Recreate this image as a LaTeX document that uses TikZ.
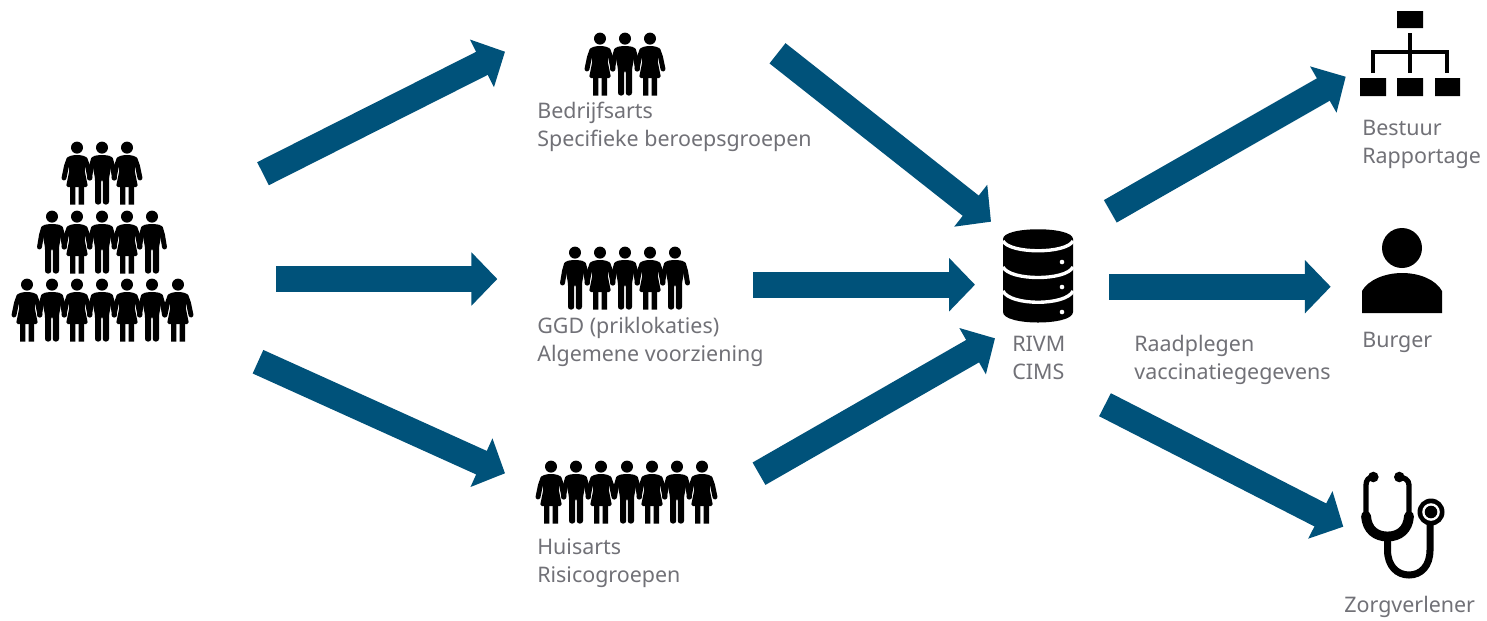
\documentclass[tikz,border=0pt]{standalone}
\usepackage{fontspec}
\setmainfont{Noto Sans}
\usetikzlibrary{arrows.meta}
\definecolor{flow}{HTML}{00527A}
\definecolor{lbl}{HTML}{717177}
\tikzset{
  x=0.02cm,y=-0.02cm,
  bigarrow/.style={draw=flow,line width=14.7pt,-{Triangle[length=14.7pt,width=29.5pt,fill=flow]}},
  lab/.style={text=lbl,inner sep=0,anchor=base west,align=left,font=\fontsize{12.2}{15.9}\selectfont},
  manfig/.pic={
    \fill (0,5.6) circle (6);
    \fill[rounded corners=1.5] (-6,13.2)--(6,13.2)--(10,15)--(8.6,28)--(7,36)--(7,62.5)--(0.8,62.5)--(0.8,37)--(-0.8,37)--(-0.8,62.5)--(-7,62.5)--(-7,36)--(-8.6,28)--(-10,15)--cycle;
    \draw[line width=2.8pt,line cap=round,line join=round] (-8.5,17)--(-10.5,24)--(-12.5,36);
    \draw[line width=2.8pt,line cap=round,line join=round] (8.5,17)--(10.5,24)--(12.5,36);
  },
  womanfig/.pic={
    \fill (0,5.6) circle (6);
    \fill[rounded corners=1] (-5,13.2)--(5,13.2)--(9,15)--(7.6,28)--(11,45)--(-11,45)--(-7.6,28)--(-9,15)--cycle;
    \fill (-7,44)rectangle(-1.6,62.5) (1.6,44)rectangle(7,62.5);
    \draw[line width=2.8pt,line cap=round,line join=round] (-8,17)--(-10.5,24)--(-13,36);
    \draw[line width=2.8pt,line cap=round,line join=round] (8,17)--(10.5,24)--(13,36);
  }
}
\begin{document}
\begin{tikzpicture}
\useasboundingbox (0,0) rectangle (1487,620);
\fill[white] (0,0) rectangle (1487,620);

% crowd
\pic at (77,142) {womanfig}; \pic at (102,142) {manfig}; \pic at (127,142) {womanfig};
\pic at (52,211) {manfig}; \pic at (77,211) {womanfig}; \pic at (102,211) {manfig}; \pic at (127,211) {womanfig}; \pic at (152,211) {manfig};
\pic at (27,279) {womanfig}; \pic at (52,279) {manfig}; \pic at (77,279) {womanfig}; \pic at (102,279) {manfig}; \pic at (127,279) {womanfig}; \pic at (152,279) {manfig}; \pic at (178,279) {womanfig};

% three groups
\pic at (600,33) {womanfig}; \pic at (625,33) {manfig}; \pic at (650,33) {womanfig};
\pic at (575,247) {manfig}; \pic at (600,247) {womanfig}; \pic at (625,247) {manfig}; \pic at (650,247) {womanfig}; \pic at (675,247) {manfig};
\pic at (551,461) {womanfig}; \pic at (576,461) {manfig}; \pic at (601,461) {womanfig}; \pic at (627,461) {manfig}; \pic at (652,461) {womanfig}; \pic at (677,461) {manfig}; \pic at (702,461) {womanfig};

% labels
\node[lab] (bedrijf) at (537,146) {Bedrijfsarts\\Specifieke beroepsgroepen};
\node[lab] (ggd) at (537,361) {GGD (priklokaties)\\Algemene voorziening};
\node[lab] (huis) at (537,582) {Huisarts\\Risicogroepen};
\node[lab] (rivm) at (1012,379) {RIVM\\CIMS};
\node[lab] (raad) at (1134,379) {Raadplegen\\vaccinatiegegevens};
\node[lab] (best) at (1362,163) {Bestuur\\Rapportage};
\node[lab] (burger) at (1362,347) {Burger};
\node[lab] (zorg) at (1344,612) {Zorgverlener};

% database
\fill (1003,239) .. controls (1003,226) and (1073,226) .. (1073,239) -- (1073,312) .. controls (1073,326) and (1003,326) .. (1003,312) -- cycle;
\draw[white,line width=1.9pt] (1003,241) .. controls (1010,254) and (1066,254) .. (1073,241);
\draw[white,line width=1.9pt] (1003,267) .. controls (1010,281) and (1066,281) .. (1073,267);
\draw[white,line width=1.9pt] (1003,291) .. controls (1010,306) and (1066,306) .. (1073,291);
\fill[white] (1062,262) circle (2.3) (1062,287) circle (2.3) (1062,312) circle (2.3);

% hierarchy
\fill (1397,11) rectangle (1423,28) (1360,78) rectangle (1386,96) (1397,78) rectangle (1423,96) (1435,78) rectangle (1460,96);
\draw[line width=2.8pt] (1410,33)--(1410,73) (1373,73)--(1373,52)--(1447,52)--(1447,73);

% person
\fill (1402,248) circle (20);
\fill (1362,313)--(1362,291) .. controls (1368,280) and (1385,273) .. (1402,273) .. controls (1420,273) and (1436,280) .. (1442,291)--(1442,313)--cycle;

% stethoscope
\fill (1373.3,477) circle (5.3) (1399.3,477) circle (5.3);
\draw[line width=3pt] (1373,477) .. controls (1369,477) and (1366,480) .. (1366,485)--(1366,515);
\draw[line width=3pt] (1399,477) .. controls (1404,477) and (1409,480) .. (1409,485)--(1409,515);
\draw[line width=5.6pt,line cap=round] (1366,516) .. controls (1367,530) and (1376,536.5) .. (1387.5,536.5) .. controls (1399,536.5) and (1408,530) .. (1409,516);
\draw[line width=4pt] (1387.5,536)--(1387.5,550) .. controls (1387.5,566) and (1397,575) .. (1409,575) .. controls (1421,575) and (1430,566) .. (1430,550)--(1430,520);
\fill (1431,512) circle (13.5);
\fill[white] (1431,512) circle (8.8);
\fill (1431,512) circle (6.3);

% arrows
\coordinate (a1s) at (263,173.7); \coordinate (a1e) at (505,51.7);
\coordinate (a2s) at (276,279); \coordinate (a2e) at (497.3,279);
\coordinate (a3s) at (258,361.7); \coordinate (a3e) at (505,473.3);
\coordinate (a4s) at (777.5,53.3); \coordinate (a4e) at (991,221.7);
\coordinate (a5s) at (753,284.7); \coordinate (a5e) at (975,284.7);
\coordinate (a6s) at (759,473.7); \coordinate (a6e) at (995,338.3);
\coordinate (a7s) at (1110.3,211.3); \coordinate (a7e) at (1345.7,76.7);
\coordinate (a8s) at (1109.3,286.7); \coordinate (a8e) at (1330.7,286.7);
\coordinate (a9s) at (1105,404.7); \coordinate (a9e) at (1343.3,526.7);
\foreach \k in {1,...,9} \draw[bigarrow] (a\k s)--(a\k e);
\end{tikzpicture}
\end{document}
